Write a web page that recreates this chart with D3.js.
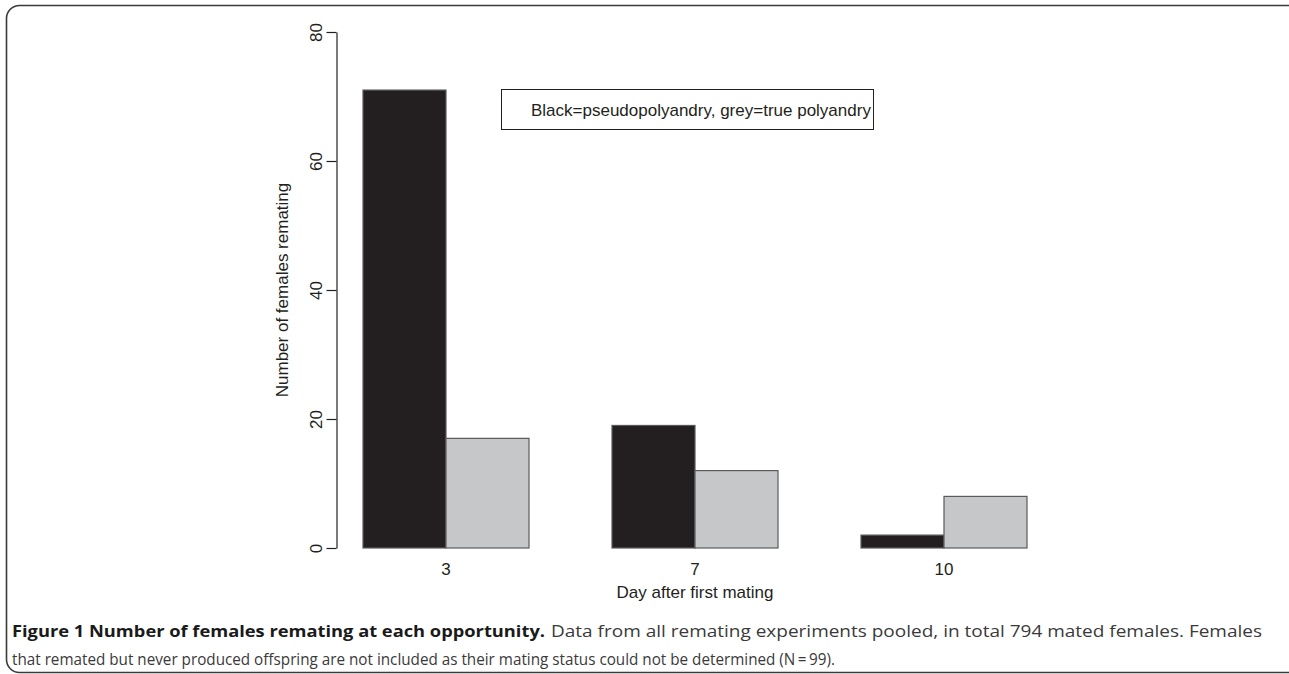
<!DOCTYPE html>
<html>
<head>
<meta charset="utf-8">
<script src="https://d3js.org/d3.v7.min.js"></script>
<style>
  body { margin: 0; background: #fff; }
  svg text { font-family: "Liberation Sans", Arial, sans-serif; fill: #231f20; }
  .caption text { font-family: "Open Sans", "Noto Sans", sans-serif; }
</style>
</head>
<body>
<div id="chart"></div>
<script>
var width = 1289, height = 674;

// data
var days = ["3", "7", "10"];
var series = ["pseudopolyandry", "true polyandry"];
var pseudo = [71, 19, 2];
var truePoly = [17, 12, 8];
var yTicks = [0, 20, 40, 60, 80];

var color = d3.scaleOrdinal()
    .domain(series)
    .range(["#231f20", "#c6c7c9"]);

var svg = d3.select("#chart").append("svg")
    .attr("width", width)
    .attr("height", height);

// figure frame (rounded box, cut by the page edge)
svg.append("rect")
    .attr("x", 6.5)
    .attr("y", 5.5)
    .attr("width", 1300)
    .attr("height", 667)
    .attr("rx", 13)
    .style("fill", "none")
    .style("stroke", "#3a3a3a")
    .style("stroke-width", 1.6);

var y = d3.scaleLinear()
    .domain([0, 80])
    .range([548, 32]);

var x0 = d3.scaleBand()
    .domain(days)
    .range([321.5, 1068.5])
    .paddingInner(1 / 3)
    .paddingOuter(1 / 6);

var x1 = d3.scaleBand()
    .domain(series)
    .range([0, x0.bandwidth()]);

var rows = days.map(function(d, i) {
    return {day: d, values: [
        {key: series[0], value: pseudo[i]},
        {key: series[1], value: truePoly[i]}
    ]};
});

var groups = svg.append("g").selectAll("g")
    .data(rows)
    .enter().append("g")
    .attr("transform", function(d) { return "translate(" + x0(d.day) + ",0)"; });

groups.selectAll("rect")
    .data(function(d) { return d.values; })
    .enter().append("rect")
    .attr("x", function(d) { return x1(d.key); })
    .attr("y", function(d) { return y(d.value); })
    .attr("width", x1.bandwidth())
    .attr("height", function(d) { return y(0) - y(d.value); })
    .style("fill", function(d) { return color(d.key); })
    .style("stroke", "#5a5a5c")
    .style("stroke-width", 1.2);

// y axis, R style with rotated labels
var yAxis = svg.append("g")
    .attr("transform", "translate(336.5,0)")
    .call(d3.axisLeft(y).tickValues(yTicks).tickSize(10).tickSizeOuter(0));
yAxis.select(".domain").style("stroke", "#231f20").style("stroke-width", 1.2);
yAxis.selectAll(".tick line").style("stroke", "#231f20").style("stroke-width", 1.2);
yAxis.selectAll(".tick text")
    .attr("transform", "rotate(-90)")
    .attr("x", 0)
    .attr("y", -15)
    .attr("dy", null)
    .style("text-anchor", "middle")
    .style("font-size", "17px");

// x labels, no axis line
var xAxis = svg.append("g")
    .attr("transform", "translate(0,548)")
    .call(d3.axisBottom(x0).tickSize(0));
xAxis.select(".domain").remove();
xAxis.selectAll(".tick text")
    .attr("y", 27)
    .attr("dy", null)
    .style("font-size", "17px");

// axis titles
svg.append("text")
    .attr("x", 695)
    .attr("y", 598)
    .style("text-anchor", "middle")
    .style("font-size", "17px")
    .text("Day after first mating");

svg.append("text")
    .attr("transform", "rotate(-90)")
    .attr("x", -290)
    .attr("y", 288)
    .style("text-anchor", "middle")
    .style("font-size", "17px")
    .text("Number of females remating");

// legend box
svg.append("rect")
    .attr("x", 501.5)
    .attr("y", 89.5)
    .attr("width", 372)
    .attr("height", 40)
    .style("fill", "#fff")
    .style("stroke", "#231f20")
    .style("stroke-width", 1);

svg.append("text")
    .attr("x", 531)
    .attr("y", 116)
    .style("font-size", "17px")
    .text("Black=pseudopolyandry, grey=true polyandry");

// caption
var caption = svg.append("g").attr("class", "caption");
caption.append("text")
    .attr("x", 12)
    .attr("y", 637)
    .attr("textLength", 533)
    .attr("lengthAdjust", "spacingAndGlyphs")
    .style("font-size", "16px")
    .style("font-weight", "bold")
    .style("fill", "#1a1a1a")
    .text("Figure 1 Number of females remating at each opportunity.");
caption.append("text")
    .attr("x", 551)
    .attr("y", 637)
    .attr("textLength", 711)
    .attr("lengthAdjust", "spacingAndGlyphs")
    .style("font-size", "16px")
    .style("fill", "#3a3a3a")
    .text("Data from all remating experiments pooled, in total 794 mated females. Females");
caption.append("text")
    .attr("x", 12)
    .attr("y", 665)
    .attr("textLength", 823)
    .attr("lengthAdjust", "spacingAndGlyphs")
    .style("font-size", "16px")
    .style("fill", "#3a3a3a")
    .text("that remated but never produced offspring are not included as their mating status could not be determined (N\u2009=\u200999).");
</script>
</body>
</html>
